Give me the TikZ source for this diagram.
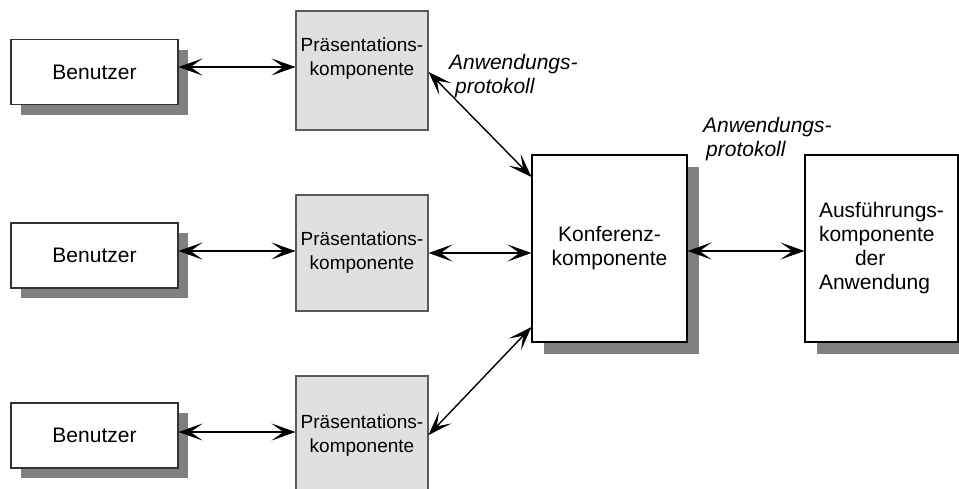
\documentclass[tikz,border=0pt]{standalone}
\usepackage{fontspec}
\setmainfont{Liberation Sans}
\usetikzlibrary{arrows.meta,shadows}
\definecolor{shadowgray}{HTML}{808080}
\definecolor{presfill}{HTML}{E0E0E0}
\definecolor{presline}{HTML}{5A5A5A}
\begin{document}
\begin{tikzpicture}[x=1pt,y=-1pt,
  big/.style={font=\fontsize{21pt}{24pt}\selectfont},
  small/.style={font=\fontsize{19pt}{24pt}\selectfont},
  userbox/.style={draw=black!80,line width=1.1pt,fill=white,inner sep=0pt,
    minimum width=167pt,minimum height=65pt,big,
    drop shadow={shadow xshift=10pt,shadow yshift=-10pt,fill=shadowgray,opacity=1}},
  presbox/.style={draw=presline,line width=1.1pt,fill=presfill,inner sep=0pt,
    minimum width=132pt,minimum height=119pt,align=center,small},
  mainbox/.style={draw=black,line width=1.1pt,fill=white,inner sep=0pt,
    minimum width=155pt,minimum height=187pt,big,
    drop shadow={shadow xshift=12pt,shadow yshift=-12pt,fill=shadowgray,opacity=1}},
  proto/.style={font=\fontsize{21pt}{24pt}\selectfont\itshape,align=left,inner sep=0pt,anchor=west},
  barb/.tip={Stealth[length=24pt,width=17pt,inset=12pt,line width=0.8pt]},
  link/.style={line width=1.4pt,barb-barb}]
\useasboundingbox (0,0) rectangle (959,488);

% users
\node[userbox] (b1) at (94.5,72) {Benutzer};
\node[userbox] (b2) at (94.5,255.5) {Benutzer};
\node[userbox] (b3) at (94.5,435.5) {Benutzer};

% presentation components
\node[presbox] (p1) at (362,70.5) {Präsentations-\\komponente\\[4pt]};
\node[presbox,minimum height=116pt] (p2) at (362,253) {Präsentations-\\komponente};
\node[presbox] (p3) at (362,435.5) {Präsentations-\\komponente};

% conference and execution components
\node[mainbox,align=center] (k) at (609.5,248.5) {Konferenz-\\komponente};
\node[mainbox,minimum width=153pt,align=left] (a) at (881.5,248.5)
  {Ausführungs-\\komponente\\\hspace*{36pt}der\\Anwendung};

% protocol labels
\node[proto] (l1) at (449,76) {Anwendungs-\\\hspace*{6pt}protokoll};
\node[proto] (l2) at (703,139) {Anwendungs-\\\hspace*{3pt}protokoll};

% connectors
\draw[link] (b1.east |- 0,67) -- (p1.west |- 0,67);
\draw[link] (b2.east |- 0,251) -- (p2.west |- 0,251);
\draw[link] (b3.east |- 0,432) -- (p3.west |- 0,432);
\draw[link] (p1.east |- 0,72) -- (k.west |- 0,177);
\draw[link] (p2.east |- 0,253) -- (k.west |- 0,253);
\draw[link] (p3.east |- 0,435) -- (k.west |- 0,327);
\draw[link] (k.east |- 0,251) -- (a.west |- 0,251);
\end{tikzpicture}
\end{document}
